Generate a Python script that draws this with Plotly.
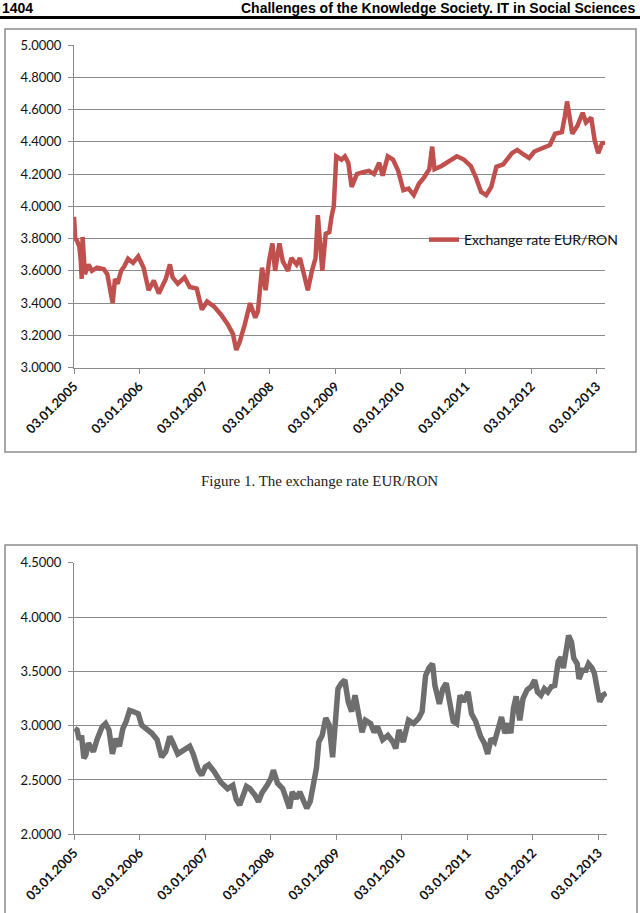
import plotly.graph_objects as go

W, H = 640, 913

# ---------------- Data: Figure 1 (EUR/RON) ----------------
eur_dates = [
    "2005-01-03", "2005-01-10", "2005-01-18", "2005-02-02", "2005-02-10", "2005-02-15", "2005-02-20",
    "2005-03-05", "2005-03-25", "2005-04-13", "2005-05-12", "2005-06-19", "2005-07-08", "2005-07-24",
    "2005-08-07", "2005-08-20", "2005-09-04", "2005-09-23", "2005-10-12", "2005-11-01", "2005-11-29",
    "2005-12-28", "2006-01-27", "2006-02-24", "2006-03-25", "2006-04-22", "2006-05-31", "2006-06-23",
    "2006-07-08", "2006-08-06", "2006-09-13", "2006-10-12", "2006-11-20", "2006-12-19", "2007-01-17",
    "2007-02-24", "2007-04-04", "2007-05-12", "2007-06-10", "2007-06-29", "2007-07-18", "2007-08-16",
    "2007-09-14", "2007-10-13", "2007-10-28", "2007-11-20", "2007-12-10", "2007-12-29", "2008-01-17",
    "2008-02-01", "2008-02-25", "2008-03-15", "2008-04-13", "2008-05-02", "2008-05-31", "2008-06-19",
    "2008-07-08", "2008-08-02", "2008-08-25", "2008-09-14", "2008-09-27", "2008-10-22", "2008-11-10",
    "2008-11-30", "2008-12-13", "2008-12-25", "2009-01-08", "2009-02-06", "2009-02-25", "2009-03-16",
    "2009-04-04", "2009-05-03", "2009-06-01", "2009-07-09", "2009-08-07", "2009-09-05", "2009-09-24",
    "2009-10-23", "2009-11-21", "2009-12-20", "2010-01-18", "2010-02-16", "2010-03-17", "2010-04-15",
    "2010-05-14", "2010-06-12", "2010-06-28", "2010-07-11", "2010-08-19", "2010-09-26", "2010-11-13",
    "2010-12-22", "2011-01-30", "2011-02-27", "2011-03-28", "2011-04-26", "2011-05-24", "2011-06-22",
    "2011-07-30", "2011-09-17", "2011-10-16", "2011-11-23", "2011-12-22", "2012-01-20", "2012-02-27",
    "2012-04-16", "2012-05-15", "2012-06-22", "2012-07-08", "2012-07-21", "2012-08-19", "2012-09-17",
    "2012-10-16", "2012-11-04", "2012-12-03", "2012-12-22", "2013-01-11", "2013-02-05", "2013-02-14",
]
eur_ron = [
    3.935, 3.80, 3.79, 3.75, 3.66, 3.55, 3.81,
    3.58, 3.64, 3.60, 3.62, 3.61, 3.58, 3.50,
    3.40, 3.55, 3.52, 3.60, 3.63, 3.675, 3.65,
    3.69, 3.62, 3.48, 3.54, 3.46, 3.55, 3.64,
    3.56, 3.52, 3.56, 3.50, 3.49, 3.36, 3.41,
    3.38, 3.33, 3.27, 3.21, 3.11, 3.16, 3.27,
    3.40, 3.31, 3.35, 3.62, 3.48, 3.66, 3.77,
    3.60, 3.77, 3.66, 3.60, 3.68, 3.64, 3.68,
    3.58, 3.48, 3.60, 3.68, 3.945, 3.60, 3.83,
    3.84, 3.94, 4.00, 4.31, 4.29, 4.31, 4.27,
    4.12, 4.20, 4.21, 4.22, 4.20, 4.27, 4.19,
    4.31, 4.29, 4.22, 4.10, 4.11, 4.07, 4.14,
    4.18, 4.23, 4.37, 4.23, 4.25, 4.28, 4.31,
    4.29, 4.25, 4.18, 4.09, 4.07, 4.12, 4.245,
    4.26, 4.33, 4.35, 4.32, 4.30, 4.34, 4.36,
    4.38, 4.45, 4.46, 4.555, 4.65, 4.45, 4.50,
    4.58, 4.52, 4.55, 4.41, 4.33, 4.40, 4.38,
]

# ---------------- Data: Figure 2 (grey series) ----------------
s2_dates = [
    "2005-01-07", "2005-01-20", "2005-02-01", "2005-02-14", "2005-02-27", "2005-03-10", "2005-03-24",
    "2005-04-06", "2005-04-21", "2005-05-11", "2005-06-09", "2005-06-28", "2005-07-17", "2005-08-05",
    "2005-08-25", "2005-09-13", "2005-10-02", "2005-10-21", "2005-11-09", "2005-11-28", "2005-12-27",
    "2006-01-15", "2006-02-13", "2006-03-13", "2006-04-11", "2006-05-06", "2006-05-29", "2006-06-21",
    "2006-07-06", "2006-08-04", "2006-09-02", "2006-10-10", "2006-10-29", "2006-11-27", "2006-12-16",
    "2007-01-05", "2007-01-24", "2007-02-22", "2007-04-01", "2007-05-09", "2007-06-07", "2007-06-26",
    "2007-07-15", "2007-08-03", "2007-08-22", "2007-09-10", "2007-10-09", "2007-10-28", "2007-11-16",
    "2007-12-15", "2008-01-04", "2008-01-19", "2008-02-11", "2008-03-11", "2008-03-30", "2008-04-18",
    "2008-05-03", "2008-05-26", "2008-06-14", "2008-07-03", "2008-07-23", "2008-08-11", "2008-08-30",
    "2008-09-15", "2008-09-28", "2008-10-17", "2008-11-06", "2008-11-25", "2008-12-14", "2008-12-28",
    "2009-01-13", "2009-02-01", "2009-02-20", "2009-03-11", "2009-03-30", "2009-04-18", "2009-05-08",
    "2009-05-27", "2009-06-15", "2009-07-14", "2009-08-02", "2009-08-21", "2009-09-19", "2009-10-18",
    "2009-11-15", "2009-12-01", "2009-12-19", "2010-01-12", "2010-02-10", "2010-03-10", "2010-04-08",
    "2010-04-27", "2010-05-16", "2010-06-04", "2010-06-24", "2010-07-07", "2010-08-01", "2010-08-20",
    "2010-09-08", "2010-09-28", "2010-10-17", "2010-11-05", "2010-11-24", "2010-12-13", "2011-01-08",
    "2011-01-27", "2011-02-19", "2011-03-19", "2011-04-08", "2011-04-27", "2011-05-16", "2011-06-04",
    "2011-06-24", "2011-07-13", "2011-08-01", "2011-08-20", "2011-09-03", "2011-09-18", "2011-10-03",
    "2011-10-23", "2011-11-10", "2011-12-03", "2011-12-26", "2012-01-14", "2012-01-30", "2012-02-18",
    "2012-03-08", "2012-03-27", "2012-04-16", "2012-05-05", "2012-05-24", "2012-06-09", "2012-06-22",
    "2012-07-06", "2012-07-21", "2012-08-06", "2012-08-19", "2012-09-07", "2012-09-17", "2012-10-06",
    "2012-10-25", "2012-11-09", "2012-11-29", "2012-12-12", "2012-12-26", "2013-01-10", "2013-01-29",
    "2013-02-17",
]
s2_values = [
    2.974, 2.96, 2.87, 2.91, 2.70, 2.73, 2.84,
    2.81, 2.76, 2.87, 2.99, 3.02, 2.96, 2.74,
    2.88, 2.81, 2.97, 3.04, 3.14, 3.13, 3.11,
    3.005, 2.97, 2.93, 2.87, 2.71, 2.76, 2.90,
    2.85, 2.74, 2.77, 2.81, 2.74, 2.59, 2.545,
    2.62, 2.64, 2.58, 2.48, 2.42, 2.45, 2.32,
    2.27, 2.36, 2.44, 2.42, 2.36, 2.30, 2.38,
    2.45, 2.51, 2.59, 2.47, 2.42, 2.33, 2.24,
    2.39, 2.33, 2.39, 2.33, 2.24, 2.30, 2.45,
    2.61, 2.85, 2.91, 3.07, 3.005, 2.71, 3.04,
    3.34, 3.39, 3.42, 3.22, 3.13, 3.28, 3.07,
    2.94, 3.05, 3.02, 2.94, 2.99, 2.87, 2.91,
    2.85, 2.79, 2.96, 2.85, 3.05, 3.02, 3.07,
    3.13, 3.46, 3.53, 3.57, 3.37, 3.20, 3.34,
    3.39, 3.19, 3.04, 3.02, 3.28, 3.22, 3.31,
    3.11, 3.04, 2.90, 2.84, 2.74, 2.88, 2.85,
    2.975, 3.08, 2.93, 3.02, 2.93, 3.16, 3.27,
    3.05, 3.25, 3.33, 3.36, 3.42, 3.31, 3.28,
    3.34, 3.31, 3.36, 3.37, 3.59, 3.63, 3.53,
    3.68, 3.83, 3.77, 3.62, 3.57, 3.43, 3.51,
    3.51, 3.57, 3.53, 3.48, 3.34, 3.22, 3.28,
    3.30,
]

tick_dates = ["2005-01-03", "2006-01-03", "2007-01-03", "2008-01-03", "2009-01-03",
              "2010-01-03", "2011-01-03", "2012-01-03", "2013-01-03"]
tick_labels = ["03.01.2005", "03.01.2006", "03.01.2007", "03.01.2008", "03.01.2009",
               "03.01.2010", "03.01.2011", "03.01.2012", "03.01.2013"]

header_left = "1404"
header_right = "Challenges of the Knowledge Society. IT in Social Sciences"
caption1 = "Figure 1. The exchange rate EUR/RON"
legend_name = "Exchange rate EUR/RON"


def px(x):
    return x / W


def py(y):
    return 1 - y / H


FONT = "Lato, 'Open Sans', sans-serif"
GRID = "#8a8a8a"

fig = go.Figure()
fig.add_trace(go.Scatter(x=eur_dates, y=eur_ron, mode="lines", name=legend_name,
                         line=dict(color="#C0504D", width=4.5), xaxis="x", yaxis="y",
                         showlegend=True))
fig.add_trace(go.Scatter(x=s2_dates, y=s2_values, mode="lines", name="series2",
                         line=dict(color="#6E6E6E", width=5.5), xaxis="x2", yaxis="y2",
                         showlegend=False))

xcommon = dict(type="date", tickmode="array", tickvals=tick_dates, ticktext=tick_labels,
               tickangle=-45, ticks="outside", ticklen=5, tickcolor=GRID, showgrid=False,
               showline=True, linecolor=GRID, linewidth=1, zeroline=False, automargin=False,
               tickfont=dict(family=FONT, size=13, color="#111111", weight="bold"))
ycommon = dict(ticks="outside", ticklen=5, tickcolor=GRID, showgrid=True, gridcolor=GRID,
               gridwidth=1, showline=True, linecolor=GRID, linewidth=1, zeroline=False,
               automargin=False,
               tickformat=".4f", tickfont=dict(family=FONT, size=13, color="#111111"),
               ticklabelstandoff=4)

fig.update_layout(
    width=W, height=H, margin=dict(l=0, r=0, t=0, b=0, autoexpand=False),
    paper_bgcolor="white", plot_bgcolor="white",
    xaxis=dict(domain=[px(74), px(605)], anchor="y",
               range=["2005-01-03", "2013-02-18"], **xcommon),
    yaxis=dict(domain=[py(367.7), py(45)], anchor="x", range=[3.0, 5.0], dtick=0.2, **ycommon),
    xaxis2=dict(domain=[px(74), px(607)], anchor="y2",
                range=["2005-01-03", "2013-02-20"], **xcommon),
    yaxis2=dict(domain=[py(834.3), py(562.7)], anchor="x2", range=[2.0, 4.5], dtick=0.5, **ycommon),
    legend=dict(x=px(424), y=py(240), xanchor="left", yanchor="middle",
                bgcolor="rgba(0,0,0,0)", font=dict(family=FONT, size=14, color="#111111"),
                itemwidth=30, tracegroupgap=0),
    shapes=[
        # header rule
        dict(type="line", xref="paper", yref="paper", x0=0, x1=1, y0=py(17.5), y1=py(17.5),
             line=dict(color="black", width=3)),
        # box around figure 1
        dict(type="rect", xref="paper", yref="paper", x0=px(5), x1=px(636), y0=py(452), y1=py(29),
             line=dict(color="#8c8c8c", width=1.5)),
        # box around figure 2
        dict(type="rect", xref="paper", yref="paper", x0=px(5), x1=px(637), y0=py(930), y1=py(545),
             line=dict(color="#8c8c8c", width=1.5)),
    ],
    annotations=[
        dict(text=header_left, xref="paper", yref="paper", x=0, y=py(8), xanchor="left",
             yanchor="middle", showarrow=False,
             font=dict(family="Liberation Sans, Arial", size=14, color="black", weight="bold")),
        dict(text=header_right, xref="paper", yref="paper", x=px(637), y=py(8), xanchor="right",
             yanchor="middle", showarrow=False,
             font=dict(family="Liberation Sans, Arial", size=14, color="black", weight="bold")),
        dict(text=caption1, xref="paper", yref="paper", x=px(319), y=py(481), xanchor="center",
             yanchor="middle", showarrow=False,
             font=dict(family="Liberation Serif, Times New Roman", size=15, color="#222222")),
    ],
)

fig.write_html("out.html")
